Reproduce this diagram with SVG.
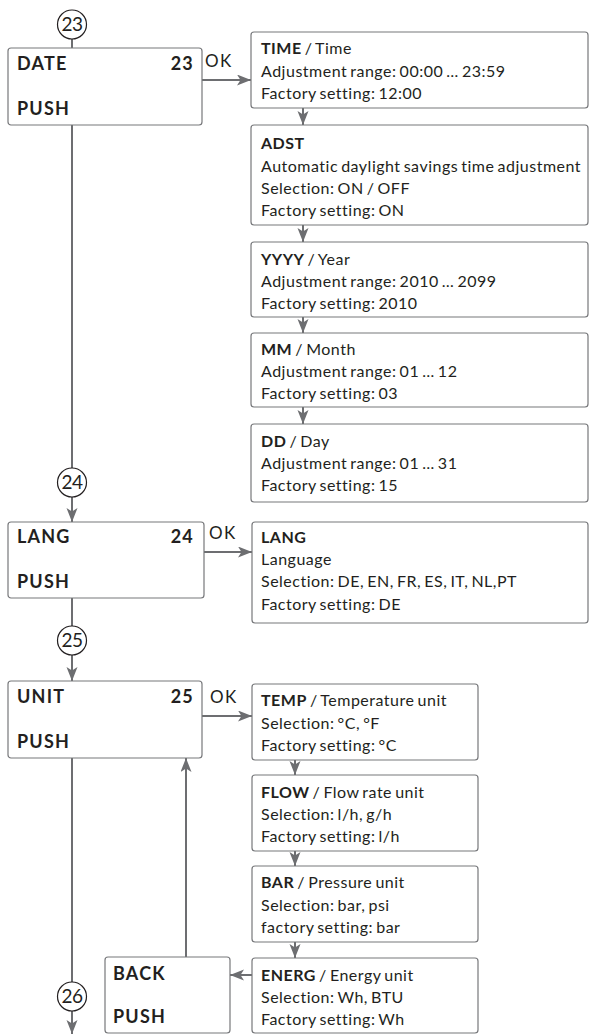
<svg xmlns="http://www.w3.org/2000/svg" width="590" height="1034" viewBox="0 0 590 1034">
<defs>
<marker id="ah" markerUnits="userSpaceOnUse" markerWidth="16" markerHeight="12" refX="14" refY="5.5" orient="auto">
<path d="M0,0 L14,5.5 L0,11 L3.5,5.5 z" fill="#6d6e71"/>
</marker>
<style>
.box{fill:#fff;stroke:#77787b;stroke-width:1.2}
.t{font-family:Lato,"Open Sans","Liberation Sans",sans-serif;font-size:16px;letter-spacing:0.5px;fill:#231f20;word-spacing:-1.5px}
.b{font-weight:bold}
.lbl{font-family:Lato,"Open Sans","Liberation Sans",sans-serif;font-size:18px;letter-spacing:1.2px;font-weight:bold;fill:#231f20}
.num{font-family:Lato,"Liberation Sans",sans-serif;font-size:19px;letter-spacing:-0.5px;fill:#231f20}
.ok{font-family:Lato,"Open Sans","Liberation Sans",sans-serif;font-size:17px;letter-spacing:1.5px;fill:#231f20}
.c{fill:#fff;stroke:#231f20;stroke-width:1.2}
.ln{stroke:#6d6e71;stroke-width:2;fill:none}
.ar{stroke:#6d6e71;stroke-width:2;fill:none;marker-end:url(#ah)}
</style>
</defs>

<g id="connectors">
<line class="ln" x1="72" y1="39" x2="72" y2="48"/>
<line class="ar" x1="202" y1="80" x2="251" y2="80"/>
<line class="ar" x1="303" y1="108" x2="303" y2="125"/>
<line class="ar" x1="303" y1="225" x2="303" y2="242"/>
<line class="ar" x1="303" y1="317" x2="303" y2="333"/>
<line class="ar" x1="303" y1="407" x2="303" y2="424"/>
<line class="ln" x1="72" y1="125" x2="72" y2="468"/>
<line class="ar" x1="72" y1="497" x2="72" y2="522"/>
<line class="ar" x1="204" y1="552" x2="252" y2="552"/>
<line class="ln" x1="72" y1="598" x2="72" y2="626"/>
<line class="ar" x1="72" y1="655" x2="72" y2="681"/>
<line class="ar" x1="202" y1="716" x2="252" y2="716"/>
<line class="ar" x1="295" y1="760" x2="295" y2="775"/>
<line class="ar" x1="295" y1="851" x2="295" y2="866"/>
<line class="ar" x1="295" y1="942" x2="295" y2="958"/>
<line class="ar" x1="252" y1="975" x2="230" y2="975"/>
<line class="ar" x1="186" y1="957" x2="186" y2="758"/>
<line class="ln" x1="72" y1="758" x2="72" y2="982"/>
<line class="ar" x1="72" y1="1011" x2="72" y2="1034"/>
</g>

<g id="c23"><circle class="c" cx="72" cy="24.5" r="14.5"/><text class="num" x="72" y="31" text-anchor="middle">23</text></g>
<g id="c24"><circle class="c" cx="72" cy="482.5" r="14.5"/><text class="num" x="72" y="489" text-anchor="middle">24</text></g>
<g id="c25"><circle class="c" cx="72" cy="640.5" r="14.5"/><text class="num" x="72" y="647" text-anchor="middle">25</text></g>
<g id="c26"><circle class="c" cx="72" cy="996.5" r="14.5"/><text class="num" x="72" y="1003" text-anchor="middle">26</text></g>

<g id="date">
<rect class="box" x="8" y="48" width="194" height="77" rx="3"/>
<text class="lbl" x="17" y="70">DATE</text>
<text class="lbl" x="194" y="70" text-anchor="end">23</text>
<text class="lbl" x="17" y="115">PUSH</text>
<text class="ok" x="205" y="67">OK</text>
</g>

<g id="time">
<rect class="box" x="251" y="32" width="337" height="76" rx="3"/>
<text class="t" x="261" y="54"><tspan class="b">TIME</tspan> / Time</text>
<text class="t" x="261" y="77">Adjustment range: 00:00 … 23:59</text>
<text class="t" x="261" y="99">Factory setting: 12:00</text>
</g>

<g id="adst">
<rect class="box" x="251" y="125" width="337" height="100" rx="3"/>
<text class="t" x="261" y="149"><tspan class="b">ADST</tspan></text>
<text class="t" x="261" y="172">Automatic daylight savings time adjustment</text>
<text class="t" x="261" y="194">Selection: ON / OFF</text>
<text class="t" x="261" y="216">Factory setting: ON</text>
</g>

<g id="yyyy">
<rect class="box" x="251" y="242" width="337" height="75" rx="3"/>
<text class="t" x="261" y="265"><tspan class="b">YYYY</tspan> / Year</text>
<text class="t" x="261" y="287">Adjustment range: 2010 … 2099</text>
<text class="t" x="261" y="309">Factory setting: 2010</text>
</g>

<g id="mm">
<rect class="box" x="251" y="333" width="337" height="74" rx="3"/>
<text class="t" x="261" y="355"><tspan class="b">MM</tspan> / Month</text>
<text class="t" x="261" y="377">Adjustment range: 01 … 12</text>
<text class="t" x="261" y="399">Factory setting: 03</text>
</g>

<g id="dd">
<rect class="box" x="251" y="424" width="337" height="78" rx="3"/>
<text class="t" x="261" y="447"><tspan class="b">DD</tspan> / Day</text>
<text class="t" x="261" y="469">Adjustment range: 01 … 31</text>
<text class="t" x="261" y="491">Factory setting: 15</text>
</g>

<g id="lang">
<rect class="box" x="8" y="522" width="196" height="76" rx="3"/>
<text class="lbl" x="17" y="543">LANG</text>
<text class="lbl" x="194" y="543" text-anchor="end">24</text>
<text class="lbl" x="17" y="588">PUSH</text>
<text class="ok" x="209" y="539">OK</text>
</g>

<g id="lang-set">
<rect class="box" x="252" y="522" width="336" height="101" rx="3"/>
<text class="t" x="261" y="543"><tspan class="b">LANG</tspan></text>
<text class="t" x="261" y="565">Language</text>
<text class="t" x="261" y="587">Selection: DE, EN, FR, ES, IT, NL,PT</text>
<text class="t" x="261" y="610">Factory setting: DE</text>
</g>

<g id="unit">
<rect class="box" x="8" y="681" width="194" height="77" rx="3"/>
<text class="lbl" x="17" y="703">UNIT</text>
<text class="lbl" x="194" y="703" text-anchor="end">25</text>
<text class="lbl" x="17" y="748">PUSH</text>
<text class="ok" x="210" y="703">OK</text>
</g>

<g id="temp">
<rect class="box" x="252" y="684" width="226" height="76" rx="3"/>
<text class="t" x="261" y="706"><tspan class="b">TEMP</tspan> / Temperature unit</text>
<text class="t" x="261" y="729">Selection: °C, °F</text>
<text class="t" x="261" y="751">Factory setting: °C</text>
</g>

<g id="flow">
<rect class="box" x="252" y="775" width="226" height="76" rx="3"/>
<text class="t" x="261" y="798"><tspan class="b">FLOW</tspan> / Flow rate unit</text>
<text class="t" x="261" y="820">Selection: l/h, g/h</text>
<text class="t" x="261" y="842">Factory setting: l/h</text>
</g>

<g id="bar">
<rect class="box" x="252" y="866" width="226" height="76" rx="3"/>
<text class="t" x="261" y="888"><tspan class="b">BAR</tspan> / Pressure unit</text>
<text class="t" x="261" y="911">Selection: bar, psi</text>
<text class="t" x="261" y="933">factory setting: bar</text>
</g>

<g id="energ">
<rect class="box" x="252" y="958" width="226" height="75" rx="3"/>
<text class="t" x="261" y="981"><tspan class="b">ENERG</tspan> / Energy unit</text>
<text class="t" x="261" y="1003">Selection: Wh, BTU</text>
<text class="t" x="261" y="1025">Factory setting: Wh</text>
</g>

<g id="back">
<rect class="box" x="105" y="957" width="125" height="76" rx="3"/>
<text class="lbl" x="113" y="980">BACK</text>
<text class="lbl" x="113" y="1023">PUSH</text>
</g>
</svg>
